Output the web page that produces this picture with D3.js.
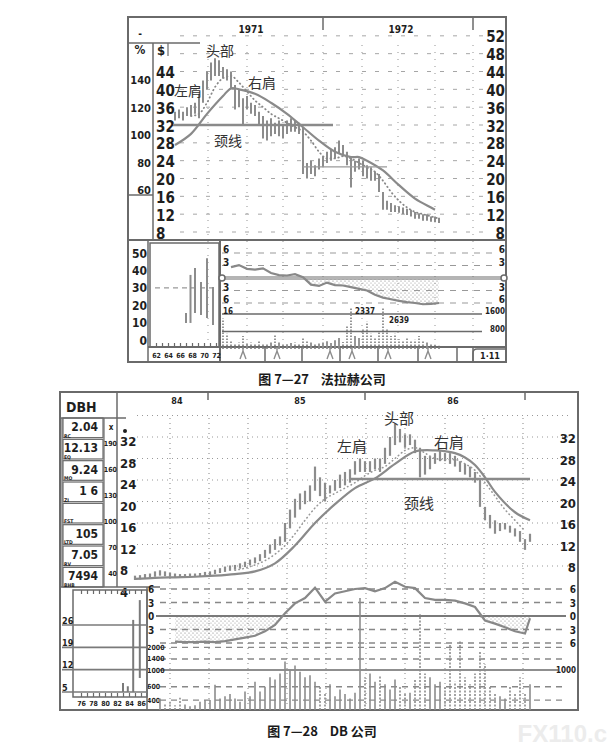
<!DOCTYPE html>
<html>
<head>
<meta charset="utf-8">
<script src="https://d3js.org/d3.v7.min.js"></script>
<style>
  body { margin: 0; background: #fff; }
  svg { display: block; }
</style>
</head>
<body>
<svg id="chart" width="611" height="750"></svg>
<script>
// ===== Fig 7-27 (top) : weekly bars, index 0..66 =====
const topHigh = [35,35.5,35,36,36.5,37,39,42,44,46, 47,46.5,45,44.5,44,41,40,38,38.5,37,
  36.5,35,34,33,33.5,32.5,33,32,33,33.5, 33,32.5,31.5,23.5,24,23,24.5,25,26,26.5,
  27,28.5,27.5,26,25,24,24.5,24,23,22.5, 21.5,21,17,15,14.5,14,13.8,13.5,13.2,13,
  12.5,12.2,12,12,11.5,11.5,11.2];
const topLow = [33,33.5,33,34,34,34.5,33.5,37,40,42, 43,43,42.5,42,40,35.5,36,32,35.5,34.5,
  34,32,29,28.5,29.5,30,29.5,29,30,30.5, 30.5,30,21,20,21,20.5,22,22.5,23.5,24,
  24.5,25.5,25,23,18,21.5,22,20.5,20,19.5, 19.5,17,13,13,12.5,12.5,12.3,12,11.8,11.5,
  11,11,10.5,10.5,10.3,10.2,10];
const topMaIdx = [0,4,8,12,14,16,20,24,28,32,36,40,44,46,48,52,56,60,64,65];
const topMaVal = [27.5,30,34.5,38.5,40.2,40,39,37,34.5,31.5,28.5,26,24.8,24.8,24,21.8,18.5,15.5,13.5,13];
const topDotIdx = d3.range(4, 67, 2);
const topDotVal = [34,34.5,37,40.5,42.5,43,41.5,39.5,37.5,36,34.5,33.5,32.5,31.5,30.5,28.5,
  26,24.5,24.5,25,24.5,23.5,22.5,21.5,19.5,17,15,13.5,12.5,12,11.5,11];
const topRsIdx = d3.range(14, 67, 2);
const topRsVal = [2.6,3.1,2.2,2.0,2.3,1.2,0.7,0.6,0.9,0.2,-1.6,-1.9,-1.1,-1.7,-1.8,-2.2,
  -2.6,-3.0,-4.0,-4.7,-5.1,-5.5,-5.8,-6.0,-6.3,-6.2,-6.0];
const topVolIdx = d3.range(12, 67);
const topVolVal = [1400,700,400,250,300,600,250,300,220,350, 280,250,300,650,300,250,220,280,300,250,
  550,400,300,280,250,300,350,280,400,500, 320,1100,2337,600,500,900,1250,700,500,800,
  2639,900,600,700,450,400,500,350,420,600, 350,300,250,200,150];
const topNeck = 32, topNeckSpan = [-0.5, 39.5];
const topNeck2 = 22.6, topNeck2Span = [32, 53];
const topLeftTicks = [44,40,36,32,28,24,20,16,12,8];
const topRightTicks = [52,48,44,40,36,32,28,24,20,16,12,8];
const topPctTicks = [140,120,100,80,60];
const topYears = ["1971","1972"], topYearIdx = [19, 56.5], topYearTickIdx = [37, 74.5];
const topGridIdx = [8.25,18,27,37,46.75,55.75,65,74.5];
const topMonthIdx = [17,25.5,38.75,44.25,53.25,63.25];
const topSepIdx = [22.5,31.75,41.25,50.75,60.75,70.5,74.5];
const topNotes = ["头部","左肩","右肩","颈线"];
const topNoteIdx = [11.25, 3.25, 21.75, 13.25];
const topNoteVal = [48.8, 39.9, 41.6, 28.6];
// long-term inset (years 62-72)
const topInYear = [67,67.75,68.5,69.5,70.5,71.5];
const topInHigh = [15.5,37.4,41.4,33.3,47,30.5];
const topInLow = [9.8,9.8,15.5,14.4,12.6,8.6];
const topInTicks = [50,40,30,20,10,0];
const topInYearTicks = [62,64,66,68,70,72];

// ===== Fig 7-28 (bottom) : bars, index 0..79 =====
const botHigh = [6.2,6.3,6.5,6.6,7.0,7.2,7.0,6.8,6.6,6.5, 6.5,6.6,6.6,6.7,6.9,7.0,7.3,7.6,7.9,8.1,
  8.2,8.5,8.8,9.2,9.6,10.2,11.0,12.0,13.0,13.5, 16.0,18.5,20.5,21.5,22.0,23.0,26.5,24.5,23.5,23.0,
  24.0,25.0,25.5,26.0,27.5,28.0,27.5,27.5,28.0,28.0, 30.0,32.0,34.5,33.5,32.5,32.5,31.5,30.0,28.5,28.5,
  29.0,29.5,29.0,29.0,28.5,27.5,27.0,26.5,25.5,24.0, 19.0,17.5,16.5,16.0,16.0,15.5,15.0,14.5,13.0,14.0];
const botLow = [5.4,5.5,5.6,5.8,6.0,6.2,6.1,6.0,5.9,5.9, 5.9,6.0,6.0,6.1,6.2,6.3,6.5,6.7,6.9,7.1,
  7.3,7.5,7.8,8.1,8.5,8.9,9.5,10.3,11.0,11.8, 12.5,15.0,17.0,18.5,19.5,20.0,22.0,21.0,20.0,21.5,
  22.0,22.5,23.0,23.5,25.0,25.5,25.5,25.5,26.0,25.5, 27.0,28.5,30.5,31.0,30.0,30.5,29.0,24.5,25.0,26.0,
  27.0,27.5,27.5,27.0,26.5,25.5,25.0,24.5,23.5,19.0, 16.5,15.0,14.0,14.5,14.8,14.2,13.5,12.5,11.0,12.5];
const botMaIdx = [0,4,8,12,16,20,24,28,32,36,40,44,48,52,56,60,64,66,68,70,72,76,79];
const botMaVal = [5.6,5.8,5.9,6.0,6.2,6.5,7.0,8.5,11.8,16.0,19.5,22.5,24.3,27.0,29.3,29.5,29.0,28.2,26.8,24.5,21.8,18.0,16.5];
const botDotIdx = d3.range(20, 79, 2);
const botDotVal = [7.2,7.6,8.2,9.0,10.2,11.8,14.0,16.5,18.8,20.5,21.5,22.5,23.5,24.8,25.8,
  26.5,28.0,29.5,30.0,29.0,28.0,27.8,27.8,27.0,25.8,23.5,21.0,18.5,16.5,14.5];
const botRsIdx = d3.range(8, 79, 2).concat([79]);
const botRsVal = [-5.7,-5.8,-5.8,-5.7,-5.8,-5.6,-5.2,-4.8,-4.4,-3.4,-2.0,0.6,2.8,4.0,6.3,3.2,5.0,5.5,
  6.0,6.2,5.5,6.2,7.6,6.5,6.2,4.0,3.6,3.6,3.4,2.8,2.0,-1.0,-1.7,-2.5,-3.4,-3.9,-0.5];
const botVolIdx = d3.range(5, 80);
const botVolVal = [420,360,380,340,430,350,330,340,380,400, 400,640,420,450,480,420,380,520,450,700,
  520,600,800,750,900,1300,1000,1150,950,800, 850,700,600,500,650,450,550,480,420,500,
  9000,800,900,700,850,650,550,750,600,480, 500,750,5500,900,800,650,700,600,2200,700,
  2500,800,650,900,1800,1200,600,500,450,420, 600,500,800,500,650];
const botNeck = 24.2, botNeckSpan = [43, 79];
const botPriceTicks = [32,28,24,20,16,12,8,4];
const botRightTicks = [32,28,24,20,16,12,8];
const botGridVals = [36,32,28,24,20,16,12,8];
const botPctTicks = [190,160,130,100,70,40];
const botVolTicks = [2000,1400,1000,600,400];
const botYears = ["84","85","86"], botYearIdx = [8.4, 33, 63.6], botYearTickIdx = [14.6, 46, 78];
const botGridIdx = [7,14.8,22.6,30.4,38.2,46.2,54,62,69.8,77.6];
const botNotes = ["左肩","头部","右肩","颈线"];
const botNoteIdx = [43.4, 52.8, 62.8, 56.8];
const botNoteVal = [30.5, 35.7, 31.1, 19.9];
const botInfoVal = ["2.04","12.13","9.24","1 6","","105","7.05","7494"];
const botInfoTag = ["RC","EQ","MO","ZI","FST","LTD","RV","BHB"];
const botInYear = [83, 83.8, 84.7, 85.8];
const botInHigh = [7.8, 6.8, 27.6, 33.8];
const botInLow = [5, 5, 5, 9.4];
const botInTicks = [26,19,12,5];
const botInYearTicks = [76,78,80,82,84,86];

// ===== drawing =====
const NUM = '"Liberation Sans Narrow","DejaVu Sans Condensed","Liberation Sans",sans-serif';
const CJK = '"Noto Sans CJK SC","Noto Sans",sans-serif';
const INK = "#1e1e1e", LINE = "#6a6a6a", BAR = "#8c8c8c", GRID = "#a6a6a6";

const svg = d3.select("#chart");
const defs = svg.append("defs");
const pat = defs.append("pattern").attr("id", "dots")
  .attr("width", 4).attr("height", 4).attr("patternUnits", "userSpaceOnUse");
pat.append("circle").attr("cx", 1).attr("cy", 1).attr("r", 0.6).attr("fill", "#777");
pat.append("circle").attr("cx", 3).attr("cy", 3).attr("r", 0.6).attr("fill", "#999");

function hline(g, x1, x2, y, c = LINE, w = 1.5, dash = null) {
  g.append("line").attr("x1", x1).attr("x2", x2).attr("y1", y).attr("y2", y)
    .attr("stroke", c).attr("stroke-width", w).attr("stroke-dasharray", dash);
}
function vline(g, x, y1, y2, c = LINE, w = 1.5, dash = null) {
  g.append("line").attr("x1", x).attr("x2", x).attr("y1", y1).attr("y2", y2)
    .attr("stroke", c).attr("stroke-width", w).attr("stroke-dasharray", dash);
}
function txt(g, x, y, s, size, anchor = "start", font = NUM, weight = "bold", fill = INK) {
  return g.append("text").attr("x", x).attr("y", y).text(s)
    .attr("font-size", size).attr("font-family", font).attr("font-weight", weight)
    .attr("fill", fill).attr("text-anchor", anchor).attr("dominant-baseline", "central")
    .style("white-space", "pre");
}
function axisText(sel, size, dy = 0) {
  sel.attr("font-family", NUM).attr("font-size", size);
  sel.select(".domain").remove();
  sel.selectAll(".tick line").remove();
  sel.selectAll("text").attr("font-weight", "bold").attr("fill", INK).attr("dy", null)
    .attr("dominant-baseline", "central").attr("transform", `translate(0,${dy})`);
}
const midOf = (hi, lo) => i => (hi[i] + lo[i]) / 2;
const isDown = (hi, lo) => i => i > 0 && midOf(hi, lo)(i) < midOf(hi, lo)(i - 1);

// ---------------- TOP CHART ----------------
const gT = svg.append("g");
const tx = d3.scaleLinear().domain([0, 66]).range([175, 439]);
const ty = d3.scaleLinear().domain([8, 32]).range([232, 125]);
const tPct = d3.scaleLinear().domain([60, 140]).range([190, 80]);
const tRs = d3.scaleLinear().domain([-6, 6]).range([303, 253]);
const tVol = d3.scaleLinear().domain([0, 1920]).range([349, 307]).clamp(true);
const tInX = d3.scaleLinear().domain([62, 72]).range([156, 216]);
const tInY = d3.scaleLinear().domain([0, 50]).range([340, 253]);

// grid
topRightTicks.forEach(v => hline(gT, 180, 488, ty(v), GRID, 1, "4,9"));
topGridIdx.forEach(i => vline(gT, tx(i), 45, 345, GRID, 1.2, "1,6"));
[6, 3, -3, -6].forEach(v => hline(gT, 222, 494, tRs(v), "#999", 1.2, "6,6"));
[1600, 800].forEach(v => hline(gT, 222, 482, tVol(v), LINE, 1.4));

// frame & layout
gT.append("rect").attr("x", 128).attr("y", 17).attr("width", 378).attr("height", 345)
  .attr("fill", "none").attr("stroke", LINE).attr("stroke-width", 2);
hline(gT, 128, 200, 43, LINE, 1.5);
vline(gT, 153, 43, 240); vline(gT, 168, 43, 56, LINE, 1.2);
hline(gT, 128, 153, 195);
hline(gT, 128, 506, 240, LINE, 2);
vline(gT, 148, 240, 362); vline(gT, 220, 240, 362, LINE, 2);
gT.append("rect").attr("x", 150).attr("y", 243).attr("width", 69).attr("height", 104)
  .attr("fill", "none").attr("stroke", LINE).attr("stroke-width", 1.5);
hline(gT, 148, 506, 347, LINE, 2);
topSepIdx.forEach(i => vline(gT, tx(i), 347, 362, LINE, 1.5));
gT.append("path").attr("d", "M473,362 V353 Q473,349 477,349 H506")
  .attr("fill", "none").attr("stroke", LINE).attr("stroke-width", 1.5);
txt(gT, 490, 356, "1·11", 9, "middle");
topYearTickIdx.forEach(i => vline(gT, tx(i), 17, 30, LINE, 1.5));
topYears.forEach((s, k) => txt(gT, tx(topYearIdx[k]), 29, s, 10, "middle"));
txt(gT, 140, 33, "-", 10, "middle");
txt(gT, 140, 50, "%", 12, "middle");
txt(gT, 157, 50, "$", 13, "start");

// axes
gT.append("g").attr("transform", "translate(156,0)")
  .call(d3.axisRight(ty).tickValues(topLeftTicks).tickSize(0).tickPadding(0))
  .call(s => axisText(s, 15, 1));
gT.append("g").attr("transform", "translate(505,0)")
  .call(d3.axisLeft(ty).tickValues(topRightTicks).tickSize(0).tickPadding(0))
  .call(s => axisText(s, 15, 1));
gT.append("g").attr("transform", "translate(151,0)")
  .call(d3.axisLeft(tPct).tickValues(topPctTicks).tickSize(0).tickPadding(0))
  .call(s => axisText(s, 11));
gT.append("g").attr("transform", "translate(223,0)")
  .call(d3.axisRight(tRs).tickValues([6, 3, -3, -6]).tickSize(0).tickPadding(0).tickFormat(d => Math.abs(d)))
  .call(s => axisText(s, 10, -4));
gT.append("g").attr("transform", "translate(505,0)")
  .call(d3.axisLeft(tRs).tickValues([6, 3, -3, -6]).tickSize(0).tickPadding(0).tickFormat(d => Math.abs(d)))
  .call(s => axisText(s, 10, -4));
gT.append("g").attr("transform", "translate(223,0)")
  .call(d3.axisRight(tVol).tickValues([1600]).tickSize(0).tickPadding(0).tickFormat(d => d / 100))
  .call(s => axisText(s, 8, -3));
gT.append("g").attr("transform", "translate(505,0)")
  .call(d3.axisLeft(tVol).tickValues([1600, 800]).tickSize(0).tickPadding(0).tickFormat(d3.format("d")))
  .call(s => axisText(s, 8, -3));

// inset (long-term)
gT.append("g").attr("transform", "translate(147,0)")
  .call(d3.axisLeft(tInY).tickValues(topInTicks).tickSize(0).tickPadding(0))
  .call(s => axisText(s, 12));
hline(gT, 155, 218, tInY(30), "#999", 1.2, "5,4");
gT.append("g").attr("transform", "translate(0,347)")
  .call(d3.axisTop(tInX).ticks(10).tickSize(4).tickFormat(""))
  .call(s => { s.select(".domain").remove(); s.selectAll("line").attr("stroke", LINE).attr("stroke-width", 1.2); });
gT.append("g").attr("transform", "translate(0,356)")
  .call(d3.axisBottom(tInX).tickValues(topInYearTicks).tickSize(0).tickPadding(0))
  .call(s => axisText(s, 7));
gT.selectAll(".inbar").data(topInYear).join("line").attr("class", "inbar")
  .attr("x1", d => tInX(d)).attr("x2", d => tInX(d))
  .attr("y1", (d, k) => tInY(topInHigh[k])).attr("y2", (d, k) => tInY(topInLow[k]))
  .attr("stroke", BAR).attr("stroke-width", 2);

// price bars
gT.selectAll(".pbar").data(topHigh).join("line").attr("class", "pbar")
  .attr("x1", (d, i) => tx(i)).attr("x2", (d, i) => tx(i))
  .attr("y1", d => ty(d)).attr("y2", (d, i) => ty(topLow[i]))
  .attr("stroke", BAR).attr("stroke-width", 2);
gT.append("path").datum(topDotIdx)
  .attr("d", d3.line().x(i => tx(i)).y((i, k) => ty(topDotVal[k])).curve(d3.curveMonotoneX))
  .attr("fill", "none").attr("stroke", "#888").attr("stroke-width", 1.8)
  .attr("stroke-dasharray", "0.5,3.5").attr("stroke-linecap", "round");
gT.append("path").datum(topMaIdx)
  .attr("d", d3.line().x(i => tx(i)).y((i, k) => ty(topMaVal[k])).curve(d3.curveCatmullRom))
  .attr("fill", "none").attr("stroke", "#8a8a8a").attr("stroke-width", 2.2);
hline(gT, tx(topNeckSpan[0]), tx(topNeckSpan[1]), ty(topNeck), "#8a8a8a", 2.4);
hline(gT, tx(topNeck2Span[0]), tx(topNeck2Span[1]), ty(topNeck2), "#9a9a9a", 1.2);
topNotes.forEach((s, k) => txt(gT, tx(topNoteIdx[k]), ty(topNoteVal[k]), s, 14, "middle", CJK, "normal", "#333"));

// relative strength
const topRsArea = d3.area().x(i => tx(i)).y0(tRs(0))
  .y1((i, k) => tRs(Math.min(0, topRsVal[k]))).curve(d3.curveLinear);
gT.append("path").datum(topRsIdx).attr("d", topRsArea).attr("fill", "url(#dots)");
hline(gT, 224, 503, tRs(0), LINE, 3.2);
hline(gT, 224, 503, tRs(0), "#fff", 1);
[222, 504].forEach(x => gT.append("circle").attr("cx", x).attr("cy", tRs(0)).attr("r", 3)
  .attr("fill", "#fff").attr("stroke", LINE).attr("stroke-width", 1.5));
gT.append("path").datum(topRsIdx)
  .attr("d", d3.line().x(i => tx(i)).y((i, k) => tRs(topRsVal[k])))
  .attr("fill", "none").attr("stroke", "#888").attr("stroke-width", 2.2);

// volume
const tDown = isDown(topHigh, topLow);
gT.selectAll(".vbar").data(topVolVal).join("line").attr("class", "vbar")
  .attr("x1", (d, k) => tx(topVolIdx[k])).attr("x2", (d, k) => tx(topVolIdx[k]))
  .attr("y1", tVol(0)).attr("y2", d => tVol(d))
  .attr("stroke", BAR).attr("stroke-width", 1.8)
  .attr("stroke-dasharray", (d, k) => tDown(topVolIdx[k]) ? "1.5,1.5" : null);
topVolVal.map((v, k) => [v, topVolIdx[k]]).filter(p => p[0] > 1920)
  .forEach((p, n) => txt(gT, tx(p[1]) + 4 + n * 2, tVol(1920) + 4 + n * 9, p[0], 8, "start"));
topMonthIdx.forEach(i => gT.append("path")
  .attr("d", `M${tx(i) - 3},359 L${tx(i)},351 L${tx(i) + 3},359 M${tx(i)},351 V347`)
  .attr("fill", "none").attr("stroke", BAR).attr("stroke-width", 1.4));

txt(svg, 322, 378, "图 7—27    法拉赫公司", 13, "middle", CJK, "bold", "#1a1a1a");

// ---------------- BOTTOM CHART ----------------
const gB = svg.append("g");
const bx = d3.scaleLinear().domain([0, 79]).range([135, 530]);
const by = d3.scaleLinear().domain([8, 32]).range([566, 437]);
const bPct = d3.scaleLinear().domain([40, 190]).range([573, 443]);
const bRs = d3.scaleLinear().domain([-6, 6]).range([643, 589]);
const bVol = d3.scaleLog().domain([295, 10000]).range([710, 594.6]);
const bInX = d3.scaleLinear().domain([76, 86]).range([81, 141]);
const bInY = d3.scaleLinear().domain([5, 26]).range([692, 625]);

// grid
botGridVals.forEach(v => hline(gB, 137, 568, by(v), "#999", 1.2, "1,4"));
botGridIdx.forEach(i => vline(gB, bx(i), 418, 708, "#999", 1.2, "1,4"));
[6, 3, -3, -6].forEach(v => hline(gB, 160, 566, bRs(v), "#888", 1.3, "6,5"));
botVolTicks.forEach(v => hline(gB, 160, v === 1000 ? 558 : 566, bVol(v), v === 1000 ? LINE : "#888", v === 1000 ? 1.6 : 1.3, v === 1000 ? null : "6,5"));

// frame & layout
gB.append("rect").attr("x", 60).attr("y", 392).attr("width", 518).attr("height", 318)
  .attr("fill", "none").attr("stroke", LINE).attr("stroke-width", 2);
hline(gB, 60, 126, 418, LINE, 1.5);
vline(gB, 117, 392, 587); vline(gB, 104, 418, 587, LINE, 1.2);
vline(gB, 62, 418, 587, LINE, 1.2);
hline(gB, 60, 160, 587, LINE, 1.5);
const infoBand = d3.scaleBand().domain(d3.range(botInfoVal.length)).range([418, 587]).paddingInner(0.08);
botInfoVal.forEach((s, k) => {
  const y0 = infoBand(k), h = infoBand.bandwidth();
  gB.append("rect").attr("x", 63).attr("y", y0).attr("width", 40).attr("height", h)
    .attr("fill", "none").attr("stroke", LINE).attr("stroke-width", 1.2);
  txt(gB, 98, y0 + h * 0.45, s, 12, "end");
  txt(gB, 64, y0 + h - 2, botInfoTag[k], 5, "start");
});
txt(gB, 66, 407, "DBH", 14, "start");
txt(gB, 111, 427, "x", 8, "middle");
gB.append("circle").attr("cx", 125).attr("cy", 431).attr("r", 2).attr("fill", INK);
botYearTickIdx.forEach(i => vline(gB, bx(i), 392, 400, LINE, 1.5));
botYears.forEach((s, k) => txt(gB, bx(botYearIdx[k]), 401, s, 9, "middle"));

// axes
gB.append("g").attr("transform", "translate(120,0)")
  .call(d3.axisRight(by).tickValues(botPriceTicks).tickSize(0).tickPadding(0))
  .call(s => axisText(s, 13, 4));
gB.append("g").attr("transform", "translate(576,0)")
  .call(d3.axisLeft(by).tickValues(botRightTicks).tickSize(0).tickPadding(0))
  .call(s => axisText(s, 13, 1));
gB.append("g").attr("transform", "translate(117,0)")
  .call(d3.axisLeft(bPct).tickValues(botPctTicks).tickSize(0).tickPadding(0))
  .call(s => axisText(s, 7));
gB.append("g").attr("transform", "translate(148,0)")
  .call(d3.axisRight(bRs).tickValues([6, 3, 0, -3]).tickSize(0).tickPadding(0).tickFormat(d => Math.abs(d)))
  .call(s => axisText(s, 10));
gB.append("g").attr("transform", "translate(576,0)")
  .call(d3.axisLeft(bRs).tickValues([6, 3, 0, -3, -6]).tickSize(0).tickPadding(0).tickFormat(d => Math.abs(d)))
  .call(s => axisText(s, 10));
gB.append("g").attr("transform", "translate(147,0)")
  .call(d3.axisRight(bVol).tickValues(botVolTicks).tickSize(0).tickPadding(0).tickFormat(d3.format("d")))
  .call(s => axisText(s, 7));
gB.append("g").attr("transform", "translate(576,0)")
  .call(d3.axisLeft(bVol).tickValues([1000]).tickSize(0).tickPadding(0).tickFormat(d3.format("d")))
  .call(s => axisText(s, 8));

// inset (long-term)
gB.append("rect").attr("x", 73).attr("y", 590).attr("width", 74).attr("height", 107)
  .attr("fill", "none").attr("stroke", LINE).attr("stroke-width", 1.5);
vline(gB, 147, 587, 710, LINE, 1.5);
botInTicks.forEach(v => hline(gB, 62, 147, bInY(v), "#7a7a7a", 1.6));
gB.append("g").attr("transform", "translate(62,0)")
  .call(d3.axisRight(bInY).tickValues(botInTicks).tickSize(0).tickPadding(0))
  .call(s => axisText(s, 9, -5));
gB.append("g").attr("transform", "translate(0,590)")
  .call(d3.axisBottom(bInX).ticks(10).tickSize(4).tickFormat(""))
  .call(s => { s.select(".domain").remove(); s.selectAll("line").attr("stroke", LINE).attr("stroke-width", 1.2); });
gB.append("g").attr("transform", "translate(0,697)")
  .call(d3.axisTop(bInX).ticks(10).tickSize(4).tickFormat(""))
  .call(s => { s.select(".domain").remove(); s.selectAll("line").attr("stroke", LINE).attr("stroke-width", 1.2); });
gB.append("g").attr("transform", "translate(0,704)")
  .call(d3.axisBottom(bInX).tickValues(botInYearTicks).tickSize(0).tickPadding(0))
  .call(s => axisText(s, 7));
gB.selectAll(".inbar").data(botInYear).join("line").attr("class", "inbar")
  .attr("x1", d => bInX(d)).attr("x2", d => bInX(d))
  .attr("y1", (d, k) => bInY(botInHigh[k])).attr("y2", (d, k) => bInY(botInLow[k]))
  .attr("stroke", "#7a7a7a").attr("stroke-width", 2);

// price bars
gB.selectAll(".pbar").data(botHigh).join("line").attr("class", "pbar")
  .attr("x1", (d, i) => bx(i)).attr("x2", (d, i) => bx(i))
  .attr("y1", d => by(d)).attr("y2", (d, i) => by(botLow[i]))
  .attr("stroke", BAR).attr("stroke-width", 2.2);
gB.append("path").datum(botDotIdx)
  .attr("d", d3.line().x(i => bx(i)).y((i, k) => by(botDotVal[k])).curve(d3.curveMonotoneX))
  .attr("fill", "none").attr("stroke", "#999").attr("stroke-width", 1.6)
  .attr("stroke-dasharray", "0.5,3.5").attr("stroke-linecap", "round");
gB.append("path").datum(botMaIdx)
  .attr("d", d3.line().x(i => bx(i)).y((i, k) => by(botMaVal[k])).curve(d3.curveCatmullRom))
  .attr("fill", "none").attr("stroke", "#8a8a8a").attr("stroke-width", 2.2);
hline(gB, bx(botNeckSpan[0]), bx(botNeckSpan[1]), by(botNeck), "#8a8a8a", 2.4);
botNotes.forEach((s, k) => txt(gB, bx(botNoteIdx[k]), by(botNoteVal[k]), s, 15, "middle", CJK, "normal", "#333"));

// relative strength
const botRsArea = d3.area().x(i => bx(i)).y0(bRs(0))
  .y1((i, k) => bRs(Math.min(0, botRsVal[k])));
gB.append("path").datum(botRsIdx).attr("d", botRsArea).attr("fill", "url(#dots)");
hline(gB, 156, 566, bRs(0), "#7a7a7a", 1.8);
gB.append("path").datum(botRsIdx)
  .attr("d", d3.line().x(i => bx(i)).y((i, k) => bRs(botRsVal[k])))
  .attr("fill", "none").attr("stroke", "#888").attr("stroke-width", 2.2);

// volume
const bDown = isDown(botHigh, botLow);
gB.selectAll(".vbar").data(botVolVal).join("line").attr("class", "vbar")
  .attr("x1", (d, k) => bx(botVolIdx[k])).attr("x2", (d, k) => bx(botVolIdx[k]))
  .attr("y1", bVol(295)).attr("y2", d => bVol(d))
  .attr("stroke", BAR).attr("stroke-width", 1.6)
  .attr("stroke-dasharray", (d, k) => bDown(botVolIdx[k]) ? "2,1.5" : null);

txt(svg, 322, 730, "图 7—28    DB 公司", 13, "middle", CJK, "bold", "#1a1a1a");
txt(svg, 607, 733, "FX110.c", 24, "end", '"Liberation Sans",sans-serif', "bold", "#ececec");
</script>
</body>
</html>
